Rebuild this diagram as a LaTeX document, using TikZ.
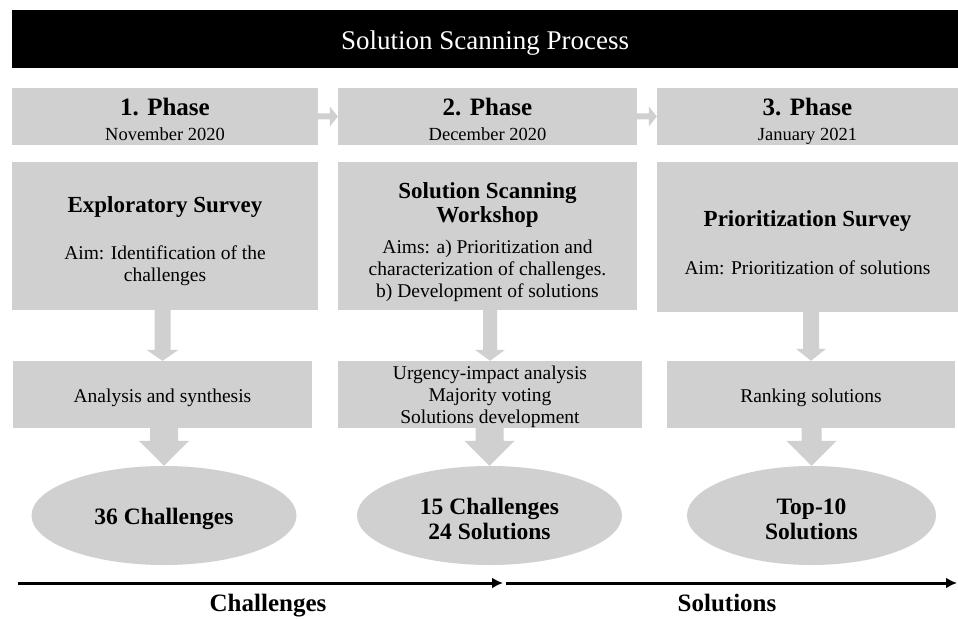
\documentclass[tikz,border=0pt]{standalone}
\usepackage{fontspec}
\setmainfont{Liberation Serif}
\usepackage{tikz}
\usetikzlibrary{calc, shapes.geometric, arrows.meta}
\definecolor{boxgray}{RGB}{208,208,208}
\tikzset{>=latex}
\tikzset{
  titlebar/.style={fill=black, text=white, inner sep=0pt, minimum width=946, minimum height=58, font=\fontsize{27}{30}\selectfont},
  phasebox/.style={fill=boxgray, inner sep=0pt, minimum height=57, align=center},
  mainbox/.style={fill=boxgray, inner sep=0pt, minimum height=148, align=center},
  stepbox/.style={fill=boxgray, inner sep=0pt, minimum height=67, align=center},
  result/.style={ellipse, fill=boxgray, inner sep=0pt, minimum height=99, align=center, font=\fontsize{23.5}{25}\selectfont\bfseries},
  axislabel/.style={anchor=base, font=\fontsize{25}{28}\selectfont\bfseries}
}
\newcommand{\phasefont}{\fontsize{25}{28}\selectfont\bfseries}
\newcommand{\datefont}{\fontsize{18.5}{22}\selectfont}
\newcommand{\boxtitle}{\fontsize{23}{26}\selectfont\bfseries}
\newcommand{\up}[1]{\rule{0pt}{#1}}
\newcommand{\blockdown}[5]{%
  \fill[boxgray] let \p1=(#1.south), \p2=(#2.north) in
  (\x2-#3,\y1) -- (\x2-#3,\y2+#5) -- (\x2-#4,\y2+#5) -- (\x2,\y2)
  -- (\x2+#4,\y2+#5) -- (\x2+#3,\y2+#5) -- (\x2+#3,\y1) -- cycle;}
\newcommand{\blockright}[2]{%
  \fill[boxgray] let \p1=(#1.east), \p2=(#2.west) in
  (\x1,\y1+3pt) -- (\x2-8pt,\y1+3pt) -- (\x2-8pt,\y1+10pt) -- (\x2,\y1)
  -- (\x2-8pt,\y1-10pt) -- (\x2-8pt,\y1-3pt) -- (\x1,\y1-3pt) -- cycle;}

\begin{document}
\begin{tikzpicture}[x=1pt, y=-1pt, font=\fontsize{19.5}{22}\selectfont]
\useasboundingbox (0,0) rectangle (958,620);

\node[titlebar] (title) at (485,39) {\up{27pt}Solution Scanning Process};

\node[phasebox, minimum width=306] (p1) at (165,116.5) {{\phasefont\up{26pt}1. Phase}\\[3pt] {\datefont November 2020\vphantom{y}}};
\node[phasebox, minimum width=299] (p2) at (487.5,116.5) {{\phasefont\up{26pt}2. Phase}\\[3pt] {\datefont December 2020\vphantom{y}}};
\node[phasebox, minimum width=301] (p3) at (807.5,116.5) {{\phasefont\up{27pt}3. Phase}\\[3pt] {\datefont January 2021}};

\node[mainbox, minimum width=306] (m1) at (165,236) {{\boxtitle\up{27pt}Exploratory Survey}\\[25pt] Aim: Identification of the\\ challenges};
\node[mainbox, minimum width=299] (m2) at (487.5,236) {{\boxtitle\up{28pt}Solution Scanning}\\[2pt] {\boxtitle Workshop}\\[9pt] Aims: a) Prioritization and\\ characterization of challenges.\\ b) Development of solutions};
\node[mainbox, minimum width=301, minimum height=150] (m3) at (807.5,237) {{\boxtitle\up{27pt}Prioritization Survey}\\[26pt] Aim: Prioritization of solutions};

\node[stepbox, minimum width=299] (s1) at (162.5,394.5) {\up{20pt}Analysis and synthesis};
\node[stepbox, minimum width=304] (s2) at (490,394.5) {\up{18pt}Urgency-impact analysis\\ Majority voting\\ Solutions development};
\node[stepbox, minimum width=288] (s3) at (811,394.5) {\up{20pt}Ranking solutions};

\node[result, minimum width=265] (r1) at (164,515.5) {\up{23pt}36 Challenges};
\node[result, minimum width=265] (r2) at (489.5,515.5) {\up{23pt}15 Challenges\\ 24 Solutions};
\node[result, minimum width=249] (r3) at (811.5,515.5) {\up{23pt}Top-10\\ Solutions};

\blockright{p1}{p2}
\blockright{p2}{p3}

\blockdown{m1}{s1}{8pt}{16pt}{11pt}
\blockdown{m2}{s2}{7pt}{15pt}{11pt}
\blockdown{m3}{s3}{8pt}{15pt}{12pt}

\blockdown{s1}{r1}{14pt}{25pt}{25pt}
\blockdown{s2}{r2}{14pt}{25pt}{25pt}
\blockdown{s3}{r3}{10pt}{25pt}{25pt}

\coordinate (chstart) at (18,583);
\coordinate (chend) at (503,583);
\coordinate (solstart) at (506,583);
\coordinate (solend) at (957,583);
\draw[-{Latex[length=11pt, width=11pt]}, line width=3pt] (chstart) -- (chend);
\draw[-{Latex[length=11pt, width=11pt]}, line width=3pt] (solstart) -- (solend);
\node[axislabel] (chlabel) at (268,611) {Challenges};
\node[axislabel] (sollabel) at (727,611) {Solutions};
\end{tikzpicture}
\end{document}
